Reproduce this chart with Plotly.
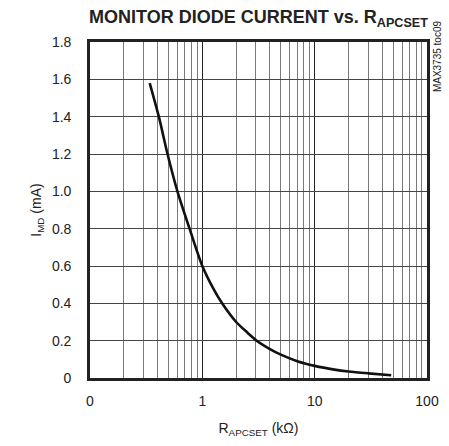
import plotly.graph_objects as go

# Data
r_apcset_kohm = [0.34, 0.41, 0.49, 0.6, 0.77, 1.0, 1.25, 1.5, 2.0, 2.5, 3.05, 4.0, 5.0, 7.0, 10.0, 15.0, 20.0, 30.0, 48.0]
i_md_ma = [1.58, 1.40, 1.20, 1.00, 0.80, 0.60, 0.48, 0.40, 0.30, 0.245, 0.20, 0.155, 0.125, 0.09, 0.065, 0.045, 0.035, 0.025, 0.015]

x_major_ticks = [0.1, 1, 10, 100]
x_major_labels = ["0", "1", "10", "100"]
x_minor_ticks = [m * d for d in [0.1, 1, 10] for m in range(2, 10)]
y_ticks = [0, 0.2, 0.4, 0.6, 0.8, 1.0, 1.2, 1.4, 1.6, 1.8]
y_labels = ["0", "0.2", "0.4", "0.6", "0.8", "1.0", "1.2", "1.4", "1.6", "1.8"]

font_family = "Liberation Sans, Arial, sans-serif"

fig = go.Figure()
fig.add_trace(go.Scatter(
    x=r_apcset_kohm, y=i_md_ma, mode="lines",
    line=dict(color="#111111", width=2.6, shape="spline", smoothing=0.8),
    showlegend=False, hoverinfo="skip",
))

fig.update_layout(
    width=449, height=446,
    margin=dict(l=90, r=22, t=42, b=68, autoexpand=False),
    paper_bgcolor="white", plot_bgcolor="white",
    font=dict(family=font_family, size=14, color="#222222"),
    hovermode=False,
    title=dict(
        text="<b>MONITOR DIODE CURRENT vs. R<sub>APCSET</sub></b>",
        x=0.5, xref="paper", xanchor="center",
        y=0.962, yref="container", yanchor="middle",
        font=dict(family=font_family, size=18, color="#222222"),
    ),
    xaxis=dict(
        type="log", range=[-1, 2], automargin=False,
        tickvals=x_major_ticks, ticktext=x_major_labels,
        showgrid=True, gridcolor="#222222", gridwidth=1,
        minor=dict(tickvals=x_minor_ticks, showgrid=True, gridcolor="#7a7a7a", gridwidth=1, ticks=""),
        showline=True, linecolor="#222222", linewidth=2.8, mirror=True,
        ticks="", ticklabelstandoff=8, zeroline=False,
        title=dict(text="R<sub>APCSET</sub> (kΩ)", standoff=16, font=dict(size=14)),
    ),
    yaxis=dict(
        range=[0, 1.8], automargin=False,
        tickvals=y_ticks, ticktext=y_labels,
        showgrid=True, gridcolor="#444444", gridwidth=1,
        showline=True, linecolor="#222222", linewidth=2.8, mirror=True,
        ticks="", ticklabelstandoff=13, zeroline=False,
        title=dict(text="I<sub>MD</sub> (mA)", standoff=7, font=dict(size=14)),
    ),
)

fig.add_annotation(
    text="MAX3735 toc09", xref="paper", yref="paper",
    x=1.0, y=0.958, xanchor="center", yanchor="middle", xshift=10,
    textangle=-90, showarrow=False,
    font=dict(family=font_family, size=10, color="#222222"),
)

fig.write_html("out.html", config={"displayModeBar": False, "staticPlot": True},
               post_script="document.body.style.margin='0';")
